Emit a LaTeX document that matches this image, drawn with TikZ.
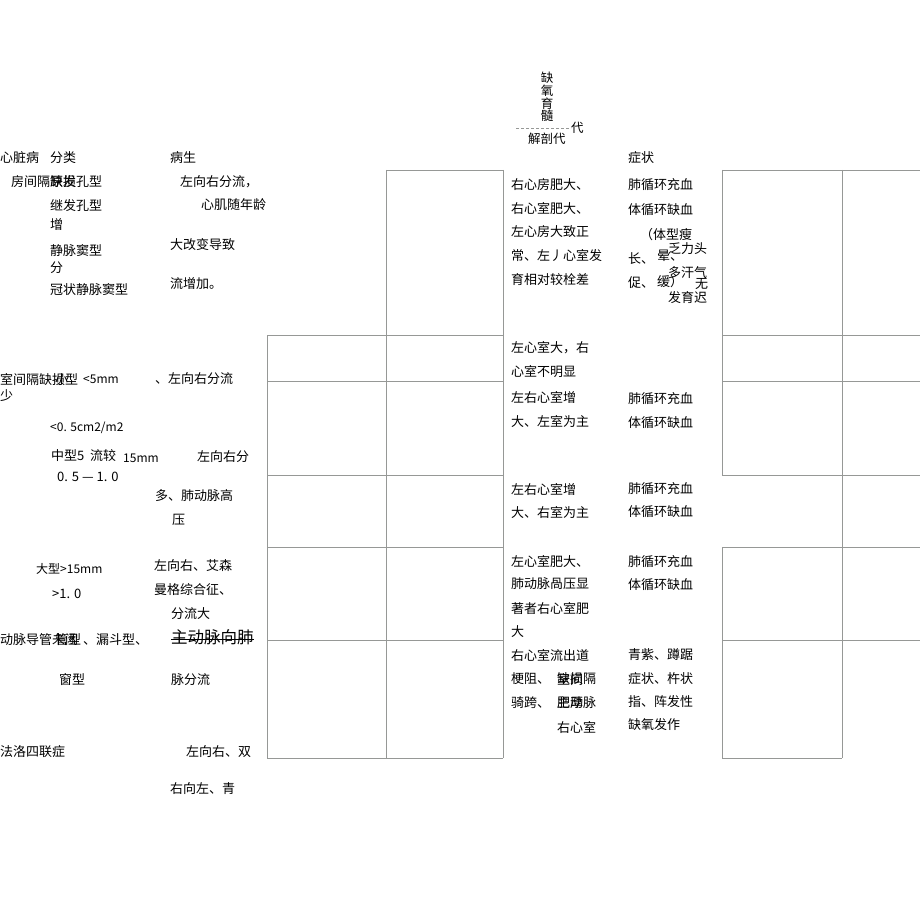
\documentclass[tikz,border=0pt]{standalone}
\usepackage{fontspec}
\usepackage{tikz}
\newfontfamily\cjk{Noto Sans CJK SC}
\newcommand{\lPulm}{肺循环充血}
\newcommand{\lSyst}{体循环缺血}
\newcommand{\lLR}{左向右}
\usetikzlibrary{positioning}
\definecolor{lineGrey}{RGB}{150, 152, 150}

\begin{document}
\begin{tikzpicture} [
        x=1pt, y=-1pt,
        txt/.style={anchor=west, inner sep=0pt, font=\cjk\fontsize{13}{13}\selectfont},
        small/.style={txt, font=\cjk\fontsize{12}{12}\selectfont},
        big/.style={txt, font=\cjk\fontsize{16.5}{16.5}\selectfont},
        cell/.style={draw=lineGrey, line width=0.8pt},
        leader/.style={draw=lineGrey, densely dashed, line width=0.6pt}
    ]
    \useasboundingbox (0,0) rectangle (920,909);

    % title
    \node[align=center, inner sep=0pt, font=\cjk\fontsize{12.5}{11}\selectfont] (title) at (547,97) {缺\\氧\\育\\髓};
    \node[txt, font=\cjk\fontsize{12.5}{12.5}\selectfont] (title dai) at (571,128) {代};
    \coordinate (leader start) at (516,128);
    \draw[leader] (leader start) -- (title dai.west);
    \node[txt, font=\cjk\fontsize{12.5}{12.5}\selectfont] (title sub) at (528,139) {解剖代};

    % table lines, left block
    \draw[cell] (386,170) -- (503,170);
    \draw[cell] (267,335) -- (503,335);
    \draw[cell] (267,381) -- (503,381);
    \draw[cell] (267,475) -- (503,475);
    \draw[cell] (267,547) -- (503,547);
    \draw[cell] (267,640) -- (503,640);
    \draw[cell] (267,758) -- (503,758);
    \draw[cell] (267,335) -- (267,758);
    \draw[cell] (386,170) -- (386,758);
    \draw[cell] (503,170) -- (503,758);

    % table lines, right block
    \draw[cell] (722,170) -- (920,170);
    \draw[cell] (722,335) -- (920,335);
    \draw[cell] (722,381) -- (920,381);
    \draw[cell] (722,475) -- (920,475);
    \draw[cell] (722,547) -- (920,547);
    \draw[cell] (722,640) -- (920,640);
    \draw[cell] (722,758) -- (842,758);
    \draw[cell] (722,170) -- (722,475);
    \draw[cell] (722,547) -- (722,758);
    \draw[cell] (842,170) -- (842,758);

    % header row
    \node[txt] (h disease) at (0,158) {心脏病};
    \node[txt] (h type) at (50,158) {分类};
    \node[txt] (h patho) at (170,158) {病生};
    \node[txt] (h symptom) at (628,158) {症状};

    % atrial septal defect
    \node[txt] (asd) at (11,182) {房间隔};
    \node[txt] (asd a) at (50,182) {缺损};
    \node[txt] (asd b) at (50,182) {原发};
    \node[txt] (asd c) at (76,182) {孔型};
    \node[txt] (asd 2) at (50,206) {继发孔型};
    \node[txt] (asd 2b) at (50,225) {增};
    \node[txt] (asd 3) at (50,251) {静脉窦型};
    \node[txt] (asd 3b) at (50,268) {分};
    \node[txt] (asd 4) at (50,290) {冠状静脉窦型};
    \node[txt] (asd p1) at (180,182) {\lLR 分流，};
    \node[txt] (asd p2) at (201,205) {心肌随年龄};
    \node[txt] (asd p3) at (170,245) {大改变导致};
    \node[txt] (asd p4) at (170,284) {流增加。};
    \node[txt] (asd m1) at (511,185) {右心房肥大、};
    \node[txt] (asd m2) at (511,209) {右心室肥大、};
    \node[txt] (asd m3) at (511,232) {左心房大致正};
    \node[txt] (asd m4) at (511,256) {常、左丿心室发};
    \node[txt] (asd m5) at (511,280) {育相对较栓差};
    \node[txt] (asd s1) at (628,185) {\lPulm};
    \node[txt] (asd s2) at (628,210) {\lSyst};
    \node[txt] (asd s3) at (640,235) {（体型瘦};
    \node[txt] (asd s4) at (628,259) {长、};
    \node[txt] (asd s5) at (657,256) {晕、};
    \node[txt] (asd s6) at (668,249) {乏力头};
    \node[txt] (asd s7) at (668,273) {多汗气};
    \node[txt] (asd s8) at (628,283) {促、};
    \node[txt] (asd s9) at (657,282) {缓）};
    \node[txt] (asd s10) at (695,284) {无};
    \node[txt] (asd s11) at (668,298) {发育迟};

    % ventricular septal defect
    \node[txt] (vsd) at (0,380) {室间隔缺损型};
    \node[txt] (vsd a) at (55,380) {小};
    \node[small] (vsd b) at (83,379) {<5mm};
    \node[txt] (vsd c) at (0,396) {少};
    \node[txt] (vsd p1) at (155,379) {、\lLR 分流};
    \node[small] (vsd r1) at (50,428) {<0. 5cm2/m2};
    \node[txt] (vsd d) at (51,456) {中型5\ \ 流较};
    \node[small] (vsd e) at (123,458) {15mm};
    \node[txt] (vsd r2) at (57,477) {0. 5 — 1. 0};
    \node[txt] (vsd p2) at (197,457) {\lLR 分};
    \node[txt] (vsd p3) at (155,496) {多、肺动脉高};
    \node[txt] (vsd p4) at (172,520) {压};
    \node[small] (vsd f) at (36,569) {大型>15mm};
    \node[txt] (vsd r3) at (52,594) {>1. 0};
    \node[txt] (vsd p5) at (154,566) {\lLR 、艾森};
    \node[txt] (vsd p6) at (154,590) {曼格综合征、};
    \node[txt] (vsd p7) at (171,614) {分流大};
    \node[txt] (vsd m1) at (511,348) {左心室大，右};
    \node[txt] (vsd m2) at (511,372) {心室不明显};
    \node[txt] (vsd m3) at (511,397) {左右心室增};
    \node[txt] (vsd m4) at (511,421) {大、左室为主};
    \node[txt] (vsd s1) at (628,399) {\lPulm};
    \node[txt] (vsd s2) at (628,423) {\lSyst};
    \node[txt] (vsd m5) at (511,489) {左右心室增};
    \node[txt] (vsd m6) at (511,512) {大、右室为主};
    \node[txt] (vsd s3) at (628,489) {\lPulm};
    \node[txt] (vsd s4) at (628,512) {\lSyst};

    % patent ductus arteriosus
    \node[txt] (pda) at (0,640) {动脉导管未闭};
    \node[txt] (pda a) at (55,640) {管型};
    \node[txt] (pda b) at (83,640) {、漏斗型、};
    \node[txt] (pda c) at (59,680) {窗型};
    \node[big] (pda p1) at (171,637) {主动脉向肺};
    \draw[line width=0.8pt] (pda p1.west) ++(0,2) -- ([yshift=-2pt]pda p1.east);
    \node[txt] (pda p2) at (171,680) {脉分流};
    \node[txt] (pda m1) at (511,561) {左心室肥大、};
    \node[txt] (pda m2) at (511,584) {肺动脉咼压显};
    \node[txt] (pda m3) at (511,608) {著者右心室肥};
    \node[txt] (pda m4) at (511,632) {大};
    \node[txt] (pda s1) at (628,562) {\lPulm};
    \node[txt] (pda s2) at (628,585) {\lSyst};

    % tetralogy of Fallot
    \node[txt] (tof) at (0,752) {法洛四联症};
    \node[txt] (tof p1) at (186,752) {\lLR 、双};
    \node[txt] (tof p2) at (170,789) {右向左、青};
    \node[txt] (tof m1) at (511,655) {右心室流出道};
    \node[txt] (tof m2) at (511,679) {梗阻、};
    \node[txt] (tof m3) at (557,679) {缺损};
    \node[txt] (tof m4) at (557,679) {室间};
    \node[txt] (tof m5) at (583,679) {隔};
    \node[txt] (tof m6) at (511,703) {骑跨、};
    \node[txt] (tof m7) at (557,703) {肥厚};
    \node[txt] (tof m8) at (557,703) {主动};
    \node[txt] (tof m9) at (583,703) {脉};
    \node[txt] (tof m10) at (557,727) {右心室};
    \node[txt] (tof s1) at (628,655) {青紫、蹲踞};
    \node[txt] (tof s2) at (628,679) {症状、杵状};
    \node[txt] (tof s3) at (628,702) {指、阵发性};
    \node[txt] (tof s4) at (628,725) {缺氧发作};

    \end{tikzpicture}
\end{document}
